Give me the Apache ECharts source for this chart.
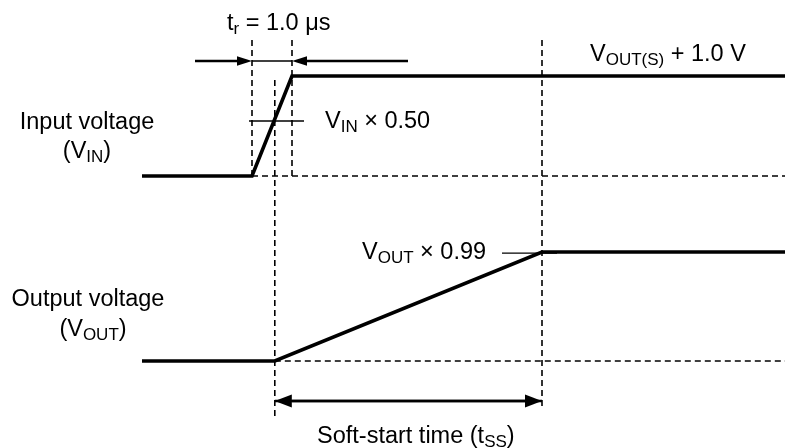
<!DOCTYPE html>
<html>
<head>
<meta charset="utf-8">
<script src="https://cdn.jsdelivr.net/npm/echarts@6/dist/echarts.min.js"></script>
<style>
html,body{margin:0;padding:0;background:#fff;}
#chart{width:785px;height:448px;}
</style>
</head>
<body>
<div id="chart"></div>
<script>
// ---- data (time in µs, voltage normalised to final level) ----
const riseTime = 1.0;                       // tr = 1.0 µs
const inputTimes = [-2.75, 0, riseTime, 13.5];
const inputLevels = [0, 0, 1, 1];
const outputTimes = [-2.75, 0.57, 7.25, 13.5];
const outputLevels = [0, 0, 1, 1];
const vinHalfLevel = 0.55;                  // VIN x 0.50 crossing
const vinHalfMarkTimes = [-0.075, 1.3];
const voutMarkLevel = 0.99;                 // VOUT x 0.99
const voutMarkTimes = [6.25, 7.625];
const softStartBegin = 0.57;
const softStartEnd = 7.25;
const trArrowLevel = 1.15;                  // in VIN units
const trArrowTails = [-1.425, 3.9];
const tssArrowLevel = -0.367;               // in VOUT units
const guideTop = 1.36;                      // VIN units
const midGuide = [0.96, -2.44];             // VIN units
const endGuide = [1.36, -2.34];             // VIN units
const timeRange = [-6.3, 13.325];
const inRange = [-2.72, 1.76];
const outRange = [-0.798, 3.312];

const FONT = "'Liberation Sans', Arial, sans-serif";
const rich = {
  n: {fontSize: 23.5, lineHeight: 28, fontFamily: FONT, color: '#000'},
  s: {fontSize: 17, lineHeight: 20, fontFamily: FONT, color: '#000', verticalAlign: 'bottom'}
};

function seg(points, xi, yi, style) {
  return {
    type: 'line', xAxisIndex: xi, yAxisIndex: yi, data: points,
    symbol: 'none', silent: true, animation: false, clip: false,
    lineStyle: style
  };
}
const dashed = {color: '#000', width: 1.6, type: [6, 4]};
const thick = {color: '#000', width: 3.6, join: 'miter', cap: 'butt'};
const thin = {color: '#000', width: 1.3};

function zip(a, b) { return a.map((v, i) => [v, b[i]]); }

function arrowRender(headLen, headW, lw) {
  return function (params, api) {
    const tip = api.coord([api.value(0), api.value(1)]);
    const tail = api.coord([api.value(2), api.value(1)]);
    const dir = Math.sign(tail[0] - tip[0]);
    const base = tip[0] + dir * headLen;
    return {
      type: 'group',
      children: [
        {type: 'line', shape: {x1: tail[0], y1: tail[1], x2: base, y2: tip[1]},
         style: {stroke: '#000', lineWidth: lw}},
        {type: 'polygon', shape: {points: [[tip[0], tip[1]], [base, tip[1] - headW / 2], [base, tip[1] + headW / 2]]},
         style: {fill: '#000'}}
      ]
    };
  };
}

function txt(x, y, text, align) {
  return {
    type: 'text', x: x, y: y, silent: true,
    style: {text: text, rich: rich, align: align || 'left', verticalAlign: 'middle',
            textAlign: align || 'left', textVerticalAlign: 'middle',
            font: '23.5px ' + FONT, fill: '#000'}
  };
}

const chart = echarts.init(document.getElementById('chart'), null, {renderer: 'canvas'});
const option = {
  backgroundColor: '#fff',
  animation: false,
  grid: [
    {left: 0, right: 0, top: 0, bottom: 0, containLabel: false},
    {left: 0, right: 0, top: 0, bottom: 0, containLabel: false}
  ],
  xAxis: [
    {type: 'value', gridIndex: 0, min: timeRange[0], max: timeRange[1], show: false},
    {type: 'value', gridIndex: 1, min: timeRange[0], max: timeRange[1], show: false}
  ],
  yAxis: [
    {type: 'value', gridIndex: 0, min: inRange[0], max: inRange[1], show: false},
    {type: 'value', gridIndex: 1, min: outRange[0], max: outRange[1], show: false}
  ],
  series: [
    // guide lines
    seg([[0, guideTop], [0, 0]], 0, 0, dashed),
    seg([[riseTime, guideTop], [riseTime, 0]], 0, 0, dashed),
    seg([[0, 0], [inputTimes[3], 0]], 0, 0, dashed),
    seg([[softStartBegin, midGuide[0]], [softStartBegin, midGuide[1]]], 0, 0, dashed),
    seg([[softStartEnd, endGuide[0]], [softStartEnd, endGuide[1]]], 0, 0, dashed),
    seg([[softStartBegin, 0], [outputTimes[3], 0]], 1, 1, dashed),
    // markers
    seg([[vinHalfMarkTimes[0], vinHalfLevel], [vinHalfMarkTimes[1], vinHalfLevel]], 0, 0, thin),
    seg([[voutMarkTimes[0], voutMarkLevel], [voutMarkTimes[1], voutMarkLevel]], 1, 1, thin),
    seg([[0, trArrowLevel], [riseTime, trArrowLevel]], 0, 0, thin),
    // waveforms
    seg(zip(inputTimes, inputLevels), 0, 0, thick),
    seg(zip(outputTimes, outputLevels), 1, 1, thick),
    // arrows
    {
      type: 'custom', xAxisIndex: 0, yAxisIndex: 0, silent: true, animation: false, clip: false,
      renderItem: arrowRender(15, 9.5, 2.6),
      data: [[0, trArrowLevel, trArrowTails[0]], [riseTime, trArrowLevel, trArrowTails[1]]]
    },
    {
      type: 'custom', xAxisIndex: 1, yAxisIndex: 1, silent: true, animation: false, clip: false,
      renderItem: arrowRender(17, 13, 2.6),
      data: [[softStartBegin, tssArrowLevel, softStartEnd], [softStartEnd, tssArrowLevel, softStartBegin]]
    }
  ],
  graphic: [
    txt(227, 24, '{n|t}{s|r}{n| = 1.0 μs}'),
    txt(590, 55, '{n|V}{s|OUT(S)}{n| + 1.0 V}'),
    txt(325, 121.5, '{n|V}{s|IN}{n| × 0.50}'),
    txt(87, 122.5, '{n|Input voltage}', 'center'),
    txt(87, 152, '{n|(V}{s|IN}{n|)}', 'center'),
    txt(88, 300, '{n|Output voltage}', 'center'),
    txt(93, 330, '{n|(V}{s|OUT}{n|)}', 'center'),
    txt(362, 252.5, '{n|V}{s|OUT}{n| × 0.99}'),
    txt(317, 437, '{n|Soft-start time (t}{s|SS}{n|)}')
  ]
};
chart.setOption(option);
</script>
</body>
</html>
